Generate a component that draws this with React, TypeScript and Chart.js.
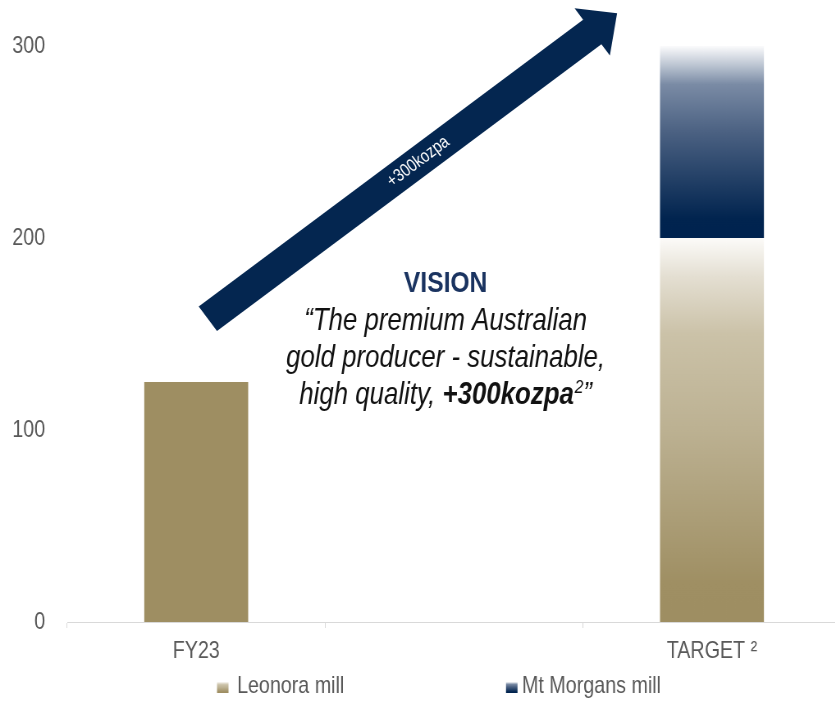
import React, { useEffect, useRef } from "react";
import { Chart, registerables } from "chart.js";

Chart.register(...registerables);

// ---- data ----
const categories = ["FY23", "", "TARGET ²"];
const seriesNames = ["Leonora mill", "Mt Morgans mill"];
const leonoraMill = [125, null, 200];
const mtMorgansMill = [null, null, 100];
const yMin = 0;
const yMax = 300;
const yStep = 100;

// ---- annotation text ----
const visionTitle = "VISION";
const visionLines = ["“The premium Australian", "gold producer - sustainable,"];
const visionLastPlain = "high quality, ";
const visionLastBold = "+300kozpa";
const visionLastSup = "2";
const visionLastEnd = "”";
const arrowLabel = "+300kozpa";
// anchors in data space: [category index, value]
const arrowFrom = [0.045, 158];
const arrowTo = [1.632, 317];
const visionAnchor = [0.967, 172];

// ---- styles ----
// The reference uses a condensed face; we render with a regular face on a wider
// canvas and squeeze it horizontally by K.
const K = 0.8204;
const CANVAS_W = 1030;
const CANVAS_H = 701;
const FONT = "'Liberation Sans', Arial, sans-serif";
const GOLD = "#9e8e62";
const NAVY = "#00234f";
const ARROW_NAVY = "#042650";
const TEXT_GREY = "#595959";
const AXIS_GREY = "#d9d9d9";

const goldStops: [number, string][] = [
  [0, "#9e8e62"],
  [0.1, "#9f8f63"],
  [0.5, "#bcb192"],
  [0.75, "#cbc2a8"],
  [0.9, "#e4dfd2"],
  [1, "#fcfbf9"],
];
const navyStops: [number, string][] = [
  [0, "#00234f"],
  [0.1, "#01244f"],
  [0.55, "#4b6182"],
  [0.8, "#7a8ba5"],
  [0.9, "#bcc5d2"],
  [1, "#fbfbfc"],
];

function makeGradient(ctx: CanvasRenderingContext2D, yBottom: number, yTop: number, stops: [number, string][]) {
  const g = ctx.createLinearGradient(0, yBottom, 0, yTop);
  stops.forEach(([o, c]) => g.addColorStop(o, c));
  return g;
}

const overlayPlugin = {
  id: "overlay",
  afterDatasetsDraw(chart: any) {
    const ctx: CanvasRenderingContext2D = chart.ctx;
    const xs = chart.scales.x;
    const ys = chart.scales.y;
    ctx.save();

    // ---- arrow (built in display space, then mapped back) ----
    const sx = xs.getPixelForValue(arrowFrom[0]) * K;
    const sy = ys.getPixelForValue(arrowFrom[1]);
    const tx = xs.getPixelForValue(arrowTo[0]) * K;
    const ty = ys.getPixelForValue(arrowTo[1]);
    const dx = tx - sx;
    const dy = ty - sy;
    const len = Math.hypot(dx, dy);
    const ux = dx / len;
    const uy = dy / len;
    const nx = -uy;
    const ny = ux;
    const headLen = 31;
    const shaftHalf = 15.3;
    const headHalf = 29.5;
    const bx = tx - ux * headLen;
    const by = ty - uy * headLen;
    const pts = [
      [sx + nx * shaftHalf, sy + ny * shaftHalf],
      [bx + nx * shaftHalf, by + ny * shaftHalf],
      [bx + nx * headHalf, by + ny * headHalf],
      [tx, ty],
      [bx - nx * headHalf, by - ny * headHalf],
      [bx - nx * shaftHalf, by - ny * shaftHalf],
      [sx - nx * shaftHalf, sy - ny * shaftHalf],
    ];
    ctx.beginPath();
    pts.forEach(([px, py], i) => {
      if (i === 0) ctx.moveTo(px / K, py);
      else ctx.lineTo(px / K, py);
    });
    ctx.closePath();
    ctx.fillStyle = ARROW_NAVY;
    ctx.fill();

    // arrow label, rotated in display space with condensed glyphs
    const t = 0.514;
    ctx.save();
    ctx.scale(1 / K, 1);
    ctx.translate(sx + dx * t, sy + dy * t);
    ctx.rotate(Math.atan2(dy, dx));
    ctx.scale(K, 1);
    ctx.fillStyle = "#ffffff";
    ctx.font = `18px ${FONT}`;
    ctx.textAlign = "center";
    ctx.textBaseline = "middle";
    ctx.fillText(arrowLabel, 0, 0);
    ctx.restore();

    // ---- vision text ----
    const cx = xs.getPixelForValue(visionAnchor[0]);
    const baseY = ys.getPixelForValue(visionAnchor[1]);
    ctx.textBaseline = "alphabetic";
    ctx.textAlign = "center";
    ctx.fillStyle = "#1a3360";
    ctx.font = `bold 30px ${FONT}`;
    ctx.fillText(visionTitle, cx, baseY);

    ctx.fillStyle = "#111111";
    ctx.font = `italic 31.5px ${FONT}`;
    const lh = 37;
    visionLines.forEach((line, i) => {
      ctx.fillText(line, cx, baseY + 38 + i * lh);
    });
    const y3 = baseY + 38 + 2 * lh;
    const fPlain = `italic 31.5px ${FONT}`;
    const fBold = `italic bold 31.5px ${FONT}`;
    const fSup = `italic 19px ${FONT}`;
    ctx.font = fPlain;
    const w1 = ctx.measureText(visionLastPlain).width;
    const w4 = ctx.measureText(visionLastEnd).width;
    ctx.font = fBold;
    const w2 = ctx.measureText(visionLastBold).width;
    ctx.font = fSup;
    const w3 = ctx.measureText(visionLastSup).width;
    let x = cx - (w1 + w2 + w3 + w4 + 1) / 2;
    ctx.textAlign = "left";
    ctx.font = fPlain;
    ctx.fillText(visionLastPlain, x, y3);
    x += w1;
    ctx.font = fBold;
    ctx.fillText(visionLastBold, x, y3);
    x += w2;
    ctx.font = fSup;
    ctx.fillText(visionLastSup, x + 1, y3 - 11);
    x += w3 + 1;
    ctx.font = fPlain;
    ctx.fillText(visionLastEnd, x, y3);

    // ---- legend ----
    const legendY = 686.5;
    const items = [
      { name: seriesNames[0], x: 217 / K, tx: 237 / K, stops: goldStops },
      { name: seriesNames[1], x: 506 / K, tx: 522 / K, stops: navyStops },
    ];
    items.forEach((it) => {
      const swH = 11;
      const swW = 11.5 / K;
      const top = 682;
      ctx.fillStyle = makeGradient(ctx, top + swH, top, it.stops);
      ctx.fillRect(it.x, top, swW, swH);
      ctx.fillStyle = TEXT_GREY;
      ctx.font = `24px ${FONT}`;
      ctx.textAlign = "left";
      ctx.textBaseline = "middle";
      ctx.fillText(it.name, it.tx, legendY);
    });

    ctx.restore();
  },
};

export default function App() {
  const ref = useRef<HTMLCanvasElement | null>(null);

  useEffect(() => {
    if (!ref.current) return;
    const chart = new Chart(ref.current, {
      type: "bar",
      data: {
        labels: categories,
        datasets: [
          {
            label: seriesNames[0],
            data: leonoraMill as any,
            stack: "s",
            backgroundColor: (c: any) => {
              const ch = c.chart;
              if (!ch.chartArea || c.type !== "data" || c.dataIndex !== 2) return GOLD;
              const y0 = ch.scales.y.getPixelForValue(0);
              const y1 = ch.scales.y.getPixelForValue(leonoraMill[2] as number);
              return makeGradient(ch.ctx, y0, y1, goldStops);
            },
            borderWidth: 0,
            barPercentage: 0.403,
            categoryPercentage: 1,
          },
          {
            label: seriesNames[1],
            data: mtMorgansMill as any,
            stack: "s",
            backgroundColor: (c: any) => {
              const ch = c.chart;
              if (!ch.chartArea || c.type !== "data") return NAVY;
              const base = (leonoraMill[c.dataIndex] as number) || 0;
              const v = (mtMorgansMill[c.dataIndex] as number) || 0;
              const y0 = ch.scales.y.getPixelForValue(base);
              const y1 = ch.scales.y.getPixelForValue(base + v);
              return makeGradient(ch.ctx, y0, y1, navyStops);
            },
            borderWidth: 0,
            barPercentage: 0.403,
            categoryPercentage: 1,
          },
        ],
      },
      options: {
        responsive: false,
        devicePixelRatio: 1,
        animation: false,
        layout: { padding: { left: 0, right: 5, top: 46, bottom: 39 } },
        plugins: {
          legend: { display: false },
          tooltip: { enabled: false },
        },
        scales: {
          x: {
            stacked: true,
            offset: true,
            grid: {
              display: true,
              offset: true,
              drawOnChartArea: false,
              drawTicks: true,
              tickLength: 6,
              color: AXIS_GREY,
            },
            border: { display: true, color: AXIS_GREY, width: 1 },
            ticks: {
              color: TEXT_GREY,
              font: { family: FONT, size: 24 },
              padding: 9,
              maxRotation: 0,
              autoSkip: false,
            },
            afterFit: (s: any) => {
              s.height = 40;
            },
          },
          y: {
            stacked: true,
            min: yMin,
            max: yMax,
            grid: { display: false, drawTicks: false },
            border: { display: false },
            ticks: {
              stepSize: yStep,
              color: TEXT_GREY,
              font: { family: FONT, size: 24 },
              padding: 27,
            },
            afterFit: (s: any) => {
              s.width = 82;
            },
          },
        },
      },
      plugins: [overlayPlugin],
    } as any);
    return () => chart.destroy();
  }, []);

  return (
    <div
      style={{
        position: "fixed",
        left: 0,
        top: 0,
        width: 835,
        height: 701,
        overflow: "hidden",
        background: "#ffffff",
      }}
    >
      <div
        style={{
          width: CANVAS_W,
          height: CANVAS_H,
          transform: `scaleX(${K})`,
          transformOrigin: "0 0",
        }}
      >
        <canvas
          ref={ref}
          width={CANVAS_W}
          height={CANVAS_H}
          style={{ display: "block", width: CANVAS_W, height: CANVAS_H }}
        />
      </div>
    </div>
  );
}
